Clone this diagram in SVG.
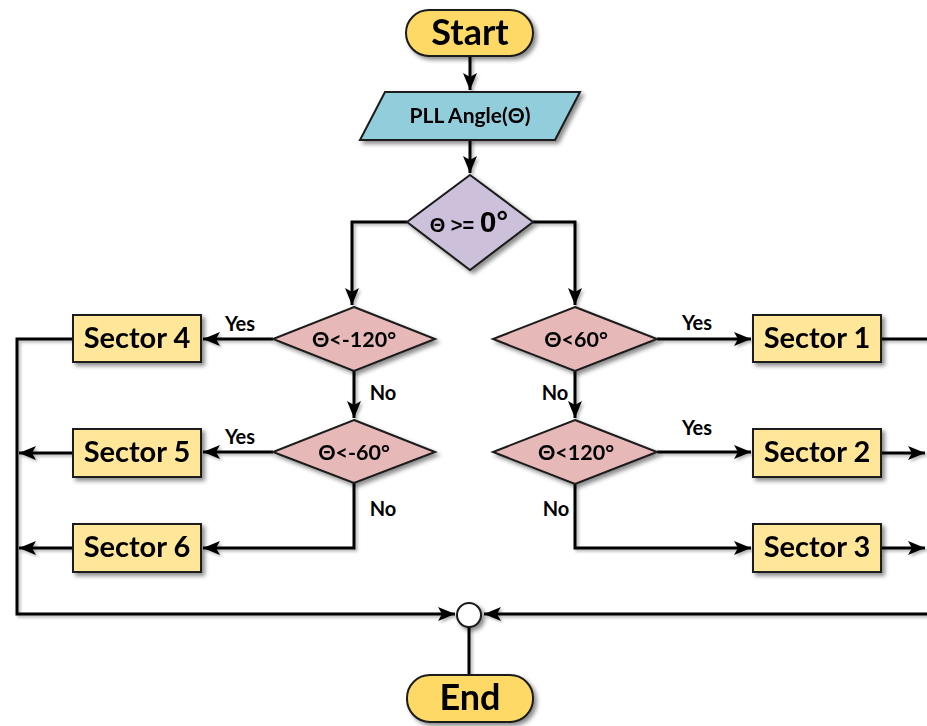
<svg xmlns="http://www.w3.org/2000/svg" width="927" height="726" viewBox="0 0 927 726">
<style>
.term{fill:#ffd966;stroke:#1a1a1a;stroke-width:2}
.io{fill:#92cddc;stroke:#1a1a1a;stroke-width:2}
.dec0{fill:#ccc0da;stroke:#1a1a1a;stroke-width:2}
.dec{fill:#e6b9b8;stroke:#1a1a1a;stroke-width:2}
.proc{fill:#ffe699;stroke:#1a1a1a;stroke-width:2}
.t{font-family:Lato,"Open Sans","Liberation Sans",sans-serif;font-weight:bold;fill:#000;text-anchor:middle}
.big{font-size:36px}
.sec{font-size:29px}
.dt{font-size:21.5px}
.lbl{font-size:20px}
.c{fill:none;stroke:#000;stroke-width:3}
</style>
<defs>
<filter id="sh" x="-20%" y="-20%" width="150%" height="160%">
<feDropShadow dx="3" dy="3" stdDeviation="2" flood-color="#000" flood-opacity="0.45"/>
</filter>
<filter id="lsh" x="-5%" y="-5%" width="110%" height="110%">
<feDropShadow dx="2" dy="2" stdDeviation="1.5" flood-color="#000" flood-opacity="0.3"/>
</filter>
<marker id="ah" markerUnits="userSpaceOnUse" markerWidth="18" markerHeight="14" refX="17" refY="7" orient="auto">
<path d="M0,0 L17,7 L0,14 L4,7 z" fill="#000"/>
</marker>
</defs>
<g id="connectors" filter="url(#lsh)">
<path class="c" d="M470,56 V90" marker-end="url(#ah)"/>
<path class="c" d="M470,140 V173" marker-end="url(#ah)"/>
<path class="c" d="M407,222 H352 V305" marker-end="url(#ah)"/>
<path class="c" d="M533,222 H575 V305" marker-end="url(#ah)"/>
<path class="c" d="M273,339 H203" marker-end="url(#ah)"/>
<path class="c" d="M657,339 H751" marker-end="url(#ah)"/>
<path class="c" d="M354,371 V418" marker-end="url(#ah)"/>
<path class="c" d="M575,371 V418" marker-end="url(#ah)"/>
<path class="c" d="M273,452 H203" marker-end="url(#ah)"/>
<path class="c" d="M657,452 H751" marker-end="url(#ah)"/>
<path class="c" d="M354,483 V548 H203" marker-end="url(#ah)"/>
<path class="c" d="M575,484 V548 H751" marker-end="url(#ah)"/>
<path class="c" d="M73,339 H17 V614 H455" marker-end="url(#ah)"/>
<path class="c" d="M73,453 H19" marker-end="url(#ah)"/>
<path class="c" d="M73,548 H19" marker-end="url(#ah)"/>
<path class="c" d="M881,339 H930"/>
<path class="c" d="M881,453 H925" marker-end="url(#ah)"/>
<path class="c" d="M881,548 H925" marker-end="url(#ah)"/>
<path class="c" d="M930,614 H484" marker-end="url(#ah)"/>
<path class="c" d="M469,627 V675"/>
</g>
<g id="start" filter="url(#sh)">
<rect class="term" x="406" y="10" width="127" height="46" rx="23"/>
<text class="t big" x="470" y="45">Start</text>
</g>
<g id="input" filter="url(#sh)">
<polygon class="io" points="385,92 580,92 555,140 360,140"/>
<text class="t" style="font-size:21px" x="470" y="123">PLL Angle(Θ)</text>
</g>
<g id="dec0" filter="url(#sh)">
<polygon class="dec0" points="470,175 533,222 470,270 407,222"/>
<text x="469" y="232" font-family="Liberation Sans, Arial, sans-serif" font-weight="bold" text-anchor="middle"><tspan font-size="20">Θ &gt;= </tspan><tspan font-size="30">0°</tspan></text>
</g>
<g id="dec-120" filter="url(#sh)">
<polygon class="dec" points="354,307 435,339 354,371 273,339"/>
<text class="t dt" x="354" y="347">Θ&lt;-120°</text>
</g>
<g id="dec60" filter="url(#sh)">
<polygon class="dec" points="575,307 657,339 575,371 493,339"/>
<text class="t dt" x="576" y="347">Θ&lt;60°</text>
</g>
<g id="dec-60" filter="url(#sh)">
<polygon class="dec" points="354,420 435,452 354,483 273,452"/>
<text class="t dt" x="354" y="460">Θ&lt;-60°</text>
</g>
<g id="dec120" filter="url(#sh)">
<polygon class="dec" points="575,420 657,452 575,484 493,452"/>
<text class="t dt" x="576" y="460">Θ&lt;120°</text>
</g>
<g id="sector4" filter="url(#sh)">
<rect class="proc" x="73" y="315" width="128" height="47"/>
<text class="t sec" x="137" y="348">Sector 4</text>
</g>
<g id="sector5" filter="url(#sh)">
<rect class="proc" x="73" y="429" width="128" height="48"/>
<text class="t sec" x="137" y="462">Sector 5</text>
</g>
<g id="sector6" filter="url(#sh)">
<rect class="proc" x="73" y="524" width="128" height="48"/>
<text class="t sec" x="137" y="557">Sector 6</text>
</g>
<g id="sector1" filter="url(#sh)">
<rect class="proc" x="753" y="315" width="128" height="47"/>
<text class="t sec" x="817" y="348">Sector 1</text>
</g>
<g id="sector2" filter="url(#sh)">
<rect class="proc" x="753" y="429" width="128" height="48"/>
<text class="t sec" x="817" y="462">Sector 2</text>
</g>
<g id="sector3" filter="url(#sh)">
<rect class="proc" x="753" y="524" width="128" height="48"/>
<text class="t sec" x="817" y="557">Sector 3</text>
</g>
<g id="labels">
<text class="t lbl" x="240" y="331">Yes</text>
<text class="t lbl" x="697" y="330">Yes</text>
<text class="t lbl" x="383" y="400">No</text>
<text class="t lbl" x="555" y="400">No</text>
<text class="t lbl" x="240" y="444">Yes</text>
<text class="t lbl" x="697" y="435">Yes</text>
<text class="t lbl" x="383" y="516">No</text>
<text class="t lbl" x="556" y="516">No</text>
</g>
<g id="junction" filter="url(#sh)">
<circle cx="469" cy="615" r="12" fill="#fff" stroke="#1a1a1a" stroke-width="2"/>
</g>
<g id="end" filter="url(#sh)">
<rect class="term" x="407" y="675" width="126" height="47" rx="23"/>
<text class="t big" x="470" y="710">End</text>
</g>
</svg>
